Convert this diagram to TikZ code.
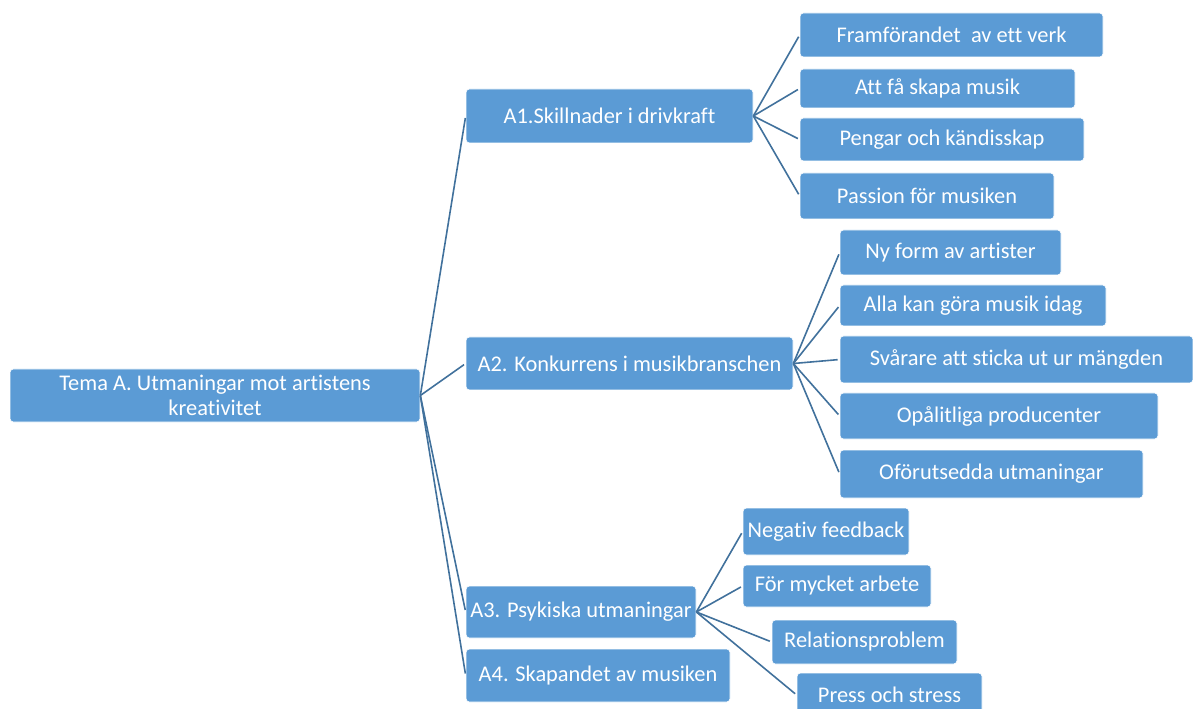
\documentclass[tikz,border=0pt]{standalone}
\usepackage{fontspec}
\setmainfont[Ligatures=NoCommon]{Carlito}
\usepackage{xcolor}
\usepackage{tikz}
\usetikzlibrary{positioning}
\definecolor{boxblue}{HTML}{5B9BD5}
\definecolor{lineblue}{HTML}{41719C}
\tikzset{
	box/.style={
		draw=white,
		line width=0.5pt,
		fill=boxblue,
		rounded corners=2.5pt,
		text=white,
		inner sep=0pt,
		align=center,
		font=\fontsize{16.8}{18.5}\selectfont},
	wh/.style 2 args={
		minimum width={0.75*#1},
		minimum height={0.75*#2}},
	every edge/.style={
		draw=lineblue,
		line width=1.2pt,
		shorten >=1.5pt}
}

\begin{document}
\begin{tikzpicture}[x=0.75pt, y=-0.75pt]
	\useasboundingbox (0,0) rectangle (1193,709);
	\clip (0,0) rectangle (1193,709);

	\node[box, wh={410}{53}] (tema) at (215,395.5) {Tema A. Utmaningar mot artistens\\kreativitet};

	\node[box, wh={287}{54}] (a1) at (609.5,116) {A1.Skillnader i drivkraft};
	\node[box, wh={327}{53}] (a2) at (629.5,363.5) {A2. Konkurrens i musikbranschen};
	\node[box, wh={230}{52}] (a3) at (581,612) {A3. Psykiska utmaningar};
	\node[box, wh={264}{53}] (a4) at (598,675.5) {A4. Skapandet av musiken};

	\node[box, wh={303}{44}] (a11) at (951.5,35) {Framförandet \ av ett verk};
	\node[box, wh={275}{39}] (a12) at (937.5,88.5) {Att få skapa musik};
	\node[box, wh={284}{43}] (a13) at (942,139.5) {Pengar och kändisskap};
	\node[box, wh={254}{46}] (a14) at (927,196) {Passion för musiken};

	\node[box, wh={221}{45}] (a21) at (950.5,252.5) {Ny form av artister};
	\node[box, wh={266}{41}] (a22) at (973,305.5) {Alla kan göra musik idag};
	\node[box, wh={353}{47}] (a23) at (1016.5,359.5) {Svårare att sticka ut ur mängden};
	\node[box, wh={318}{46}] (a24) at (999,416) {Opålitliga producenter};
	\node[box, wh={303}{48}] (a25) at (991.5,474) {Oförutsedda utmaningar};

	\node[box, wh={166}{47}] (a31) at (826,531.5) {Negativ feedback};
	\node[box, wh={188}{42}] (a32) at (837,586) {För mycket arbete};
	\node[box, wh={185}{44}] (a33) at (864.5,642) {Relationsproblem};
	\node[box, wh={185}{44}] (a34) at (889.5,695) {Press och stress};

	% tema -> A1..A4
	\draw (tema.east) edge (a1.west);
	\draw (tema.east) edge (a2.west);
	\draw (tema.east) edge (a3.west);
	\draw (tema.east) edge (a4.west);

	% A1
	\draw (a1.east) edge (a11.west);
	\draw (a1.east) edge (a12.west);
	\draw (a1.east) edge (a13.west);
	\draw (a1.east) edge (a14.west);

	% A2
	\draw (a2.east) edge (a21.west);
	\draw (a2.east) edge (a22.west);
	\draw (a2.east) edge (a23.west);
	\draw (a2.east) edge (a24.west);
	\draw (a2.east) edge (a25.west);

	% A3
	\draw (a3.east) edge (a31.west);
	\draw (a3.east) edge (a32.west);
	\draw (a3.east) edge (a33.west);
	\draw (a3.east) edge (a34.west);
\end{tikzpicture}
\end{document}
